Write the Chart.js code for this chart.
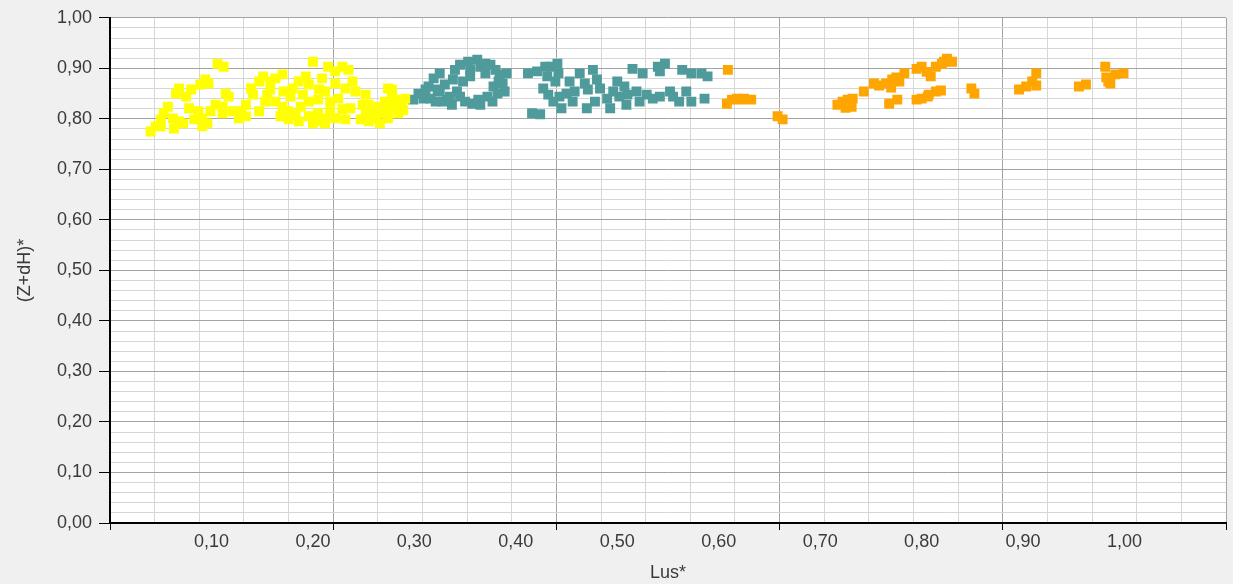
<!DOCTYPE html>
<html>
<head>
<meta charset="utf-8">
<script src="https://cdn.jsdelivr.net/npm/chart.js@4/dist/chart.umd.min.js"></script>
<style>
  html, body { margin: 0; padding: 0; background: #f0f0f0; }
  #wrap { width: 1233px; height: 584px; position: relative; }
</style>
</head>
<body>
<div id="wrap"><canvas id="lusChart"></canvas></div>
<script>
// Lus* (x) against (Z+dH)* (y), three groups
const yellowPoints = [
  [0.040, 0.775], [0.045, 0.785], [0.050, 0.799], [0.053, 0.811], [0.057, 0.824],
  [0.065, 0.850], [0.068, 0.860], [0.062, 0.801], [0.068, 0.795], [0.063, 0.781],
  [0.078, 0.821], [0.087, 0.815], [0.083, 0.799], [0.091, 0.801], [0.096, 0.791],
  [0.091, 0.785], [0.089, 0.868], [0.094, 0.878], [0.097, 0.870], [0.106, 0.909],
  [0.112, 0.903], [0.104, 0.828], [0.114, 0.850], [0.111, 0.824], [0.111, 0.811],
  [0.121, 0.815], [0.129, 0.815], [0.134, 0.828], [0.141, 0.848], [0.139, 0.860],
  [0.147, 0.874], [0.151, 0.884], [0.134, 0.805], [0.127, 0.801], [0.158, 0.874],
  [0.163, 0.880], [0.170, 0.888], [0.155, 0.848], [0.163, 0.834], [0.170, 0.824],
  [0.176, 0.815], [0.183, 0.809], [0.176, 0.799], [0.186, 0.795], [0.196, 0.805],
  [0.205, 0.811], [0.212, 0.801], [0.200, 0.791], [0.171, 0.854], [0.180, 0.860],
  [0.186, 0.874], [0.193, 0.884], [0.196, 0.868], [0.190, 0.848], [0.196, 0.834],
  [0.205, 0.838], [0.212, 0.854], [0.209, 0.880], [0.200, 0.913], [0.215, 0.903],
  [0.222, 0.894], [0.229, 0.903], [0.235, 0.897], [0.217, 0.834], [0.225, 0.840],
  [0.232, 0.860], [0.239, 0.874], [0.242, 0.854], [0.229, 0.819], [0.237, 0.821],
  [0.222, 0.801], [0.212, 0.791], [0.252, 0.809], [0.255, 0.795], [0.262, 0.801],
  [0.268, 0.811], [0.274, 0.819], [0.281, 0.828], [0.288, 0.834], [0.274, 0.801],
  [0.265, 0.824], [0.255, 0.828], [0.252, 0.848], [0.274, 0.860], [0.281, 0.838],
  [0.291, 0.840], [0.278, 0.858],
  [0.247, 0.799], [0.259, 0.815], [0.271, 0.834], [0.284, 0.811], [0.266, 0.791],
  [0.278, 0.844], [0.289, 0.817], [0.249, 0.828], [0.147, 0.815], [0.153, 0.834],
  [0.168, 0.805], [0.188, 0.824], [0.203, 0.795], [0.217, 0.815], [0.232, 0.799],
  [0.178, 0.844], [0.158, 0.858], [0.206, 0.858], [0.222, 0.870], [0.075, 0.844],
  [0.080, 0.858], [0.072, 0.791], [0.099, 0.815], [0.117, 0.844], [0.050, 0.785]
];

const tealPoints = [
  [0.299, 0.838], [0.309, 0.840], [0.314, 0.864], [0.319, 0.880], [0.325, 0.890],
  [0.323, 0.858], [0.330, 0.868], [0.332, 0.838], [0.337, 0.828], [0.342, 0.854],
  [0.345, 0.907], [0.353, 0.913], [0.362, 0.917], [0.365, 0.903], [0.370, 0.890],
  [0.375, 0.907], [0.380, 0.897], [0.384, 0.888], [0.387, 0.870], [0.389, 0.854],
  [0.382, 0.850], [0.372, 0.844], [0.363, 0.838], [0.357, 0.830], [0.350, 0.834],
  [0.345, 0.844], [0.348, 0.874], [0.355, 0.884], [0.338, 0.878], [0.328, 0.834],
  [0.321, 0.834], [0.365, 0.828], [0.378, 0.864], [0.391, 0.890],
  [0.304, 0.850], [0.311, 0.858], [0.335, 0.844], [0.355, 0.897], [0.370, 0.909],
  [0.383, 0.874], [0.340, 0.897], [0.325, 0.854], [0.377, 0.834], [0.316, 0.840],
  [0.412, 0.890], [0.421, 0.894], [0.416, 0.811], [0.424, 0.809], [0.431, 0.884],
  [0.434, 0.903], [0.441, 0.909], [0.442, 0.890], [0.427, 0.860], [0.432, 0.848],
  [0.437, 0.834], [0.445, 0.821], [0.450, 0.850], [0.453, 0.874], [0.456, 0.834],
  [0.463, 0.890], [0.468, 0.870], [0.471, 0.858], [0.470, 0.821], [0.476, 0.897],
  [0.480, 0.878], [0.483, 0.860], [0.490, 0.840], [0.493, 0.821], [0.496, 0.854],
  [0.500, 0.874], [0.507, 0.864], [0.510, 0.848], [0.509, 0.828], [0.515, 0.899],
  [0.519, 0.854], [0.525, 0.890], [0.529, 0.848], [0.535, 0.840], [0.540, 0.903],
  [0.547, 0.909], [0.542, 0.894], [0.552, 0.854], [0.555, 0.844], [0.564, 0.897],
  [0.568, 0.854], [0.573, 0.890], [0.573, 0.834], [0.583, 0.890], [0.586, 0.840],
  [0.589, 0.884],
  [0.443, 0.844], [0.458, 0.854], [0.478, 0.834], [0.502, 0.844], [0.522, 0.834],
  [0.542, 0.844], [0.561, 0.834], [0.429, 0.903], [0.439, 0.874]
];

const orangePoints = [
  [0.609, 0.897], [0.608, 0.830], [0.613, 0.838], [0.618, 0.840], [0.625, 0.840],
  [0.632, 0.838], [0.658, 0.805], [0.663, 0.799], [0.717, 0.828], [0.722, 0.834],
  [0.727, 0.838], [0.732, 0.840], [0.731, 0.824], [0.743, 0.854], [0.753, 0.870],
  [0.765, 0.870], [0.771, 0.878], [0.778, 0.874], [0.783, 0.890], [0.770, 0.862],
  [0.768, 0.830], [0.776, 0.838], [0.795, 0.899], [0.800, 0.903], [0.809, 0.884],
  [0.814, 0.903], [0.820, 0.909], [0.825, 0.919], [0.830, 0.913], [0.795, 0.838],
  [0.800, 0.840], [0.807, 0.848], [0.814, 0.854], [0.819, 0.856], [0.849, 0.860],
  [0.852, 0.850], [0.896, 0.858], [0.903, 0.864], [0.913, 0.890], [0.913, 0.866],
  [0.955, 0.864], [0.962, 0.868], [0.981, 0.903], [0.982, 0.882], [0.991, 0.888],
  [0.999, 0.890], [0.984, 0.874],
  [0.622, 0.838], [0.725, 0.822], [0.758, 0.866], [0.775, 0.882], [0.805, 0.893],
  [0.822, 0.913], [0.806, 0.844], [0.909, 0.874], [0.986, 0.870]
];

// axis settings
const xLabelTicks = [0.1, 0.2, 0.3, 0.4, 0.5, 0.6, 0.7, 0.8, 0.9, 1.0];
const X_MAX = 1.1;
const X_GRID_STEP = 0.044;   // 5 minor steps per major line (0.22)
const Y_MAX = 1.0;
const Y_GRID_STEP = 0.02;    // 5 minor steps per labelled line (0.1)

const fmt = v => v.toFixed(2).replace('.', ',');
const toXY = arr => arr.map(p => ({ x: p[0], y: p[1] }));

const MAJOR_GRID = '#a3a3a3';
const MINOR_GRID = '#d6d6d6';
const TEXT_COLOR = '#3a3a3a';
const FONT = { family: 'Liberation Sans', size: 18 };

const backgroundPlugin = {
  id: 'plotBackground',
  beforeDraw(chart) {
    const { ctx, chartArea } = chart;
    ctx.save();
    ctx.fillStyle = '#f0f0f0';
    ctx.fillRect(0, 0, chart.width, chart.height);
    ctx.fillStyle = '#ffffff';
    ctx.fillRect(chartArea.left, chartArea.top, chartArea.right - chartArea.left, chartArea.bottom - chartArea.top);
    ctx.restore();
  }
};

function pointSet(data, color) {
  return {
    data: toXY(data),
    backgroundColor: color,
    borderColor: color,
    borderWidth: 0,
    pointStyle: 'rect',
    pointRadius: 7,
    pointHoverRadius: 7
  };
}

const ctx = document.getElementById('lusChart').getContext('2d');
new Chart(ctx, {
  type: 'scatter',
  data: {
    datasets: [
      pointSet(yellowPoints, '#ffff00'),
      pointSet(tealPoints, '#4f9b9c'),
      pointSet(orangePoints, '#ffa500')
    ]
  },
  plugins: [backgroundPlugin],
  options: {
    responsive: true,
    maintainAspectRatio: false,
    animation: false,
    layout: { padding: { left: 0, top: 5, right: 6, bottom: 0 } },
    plugins: {
      legend: { display: false },
      tooltip: { enabled: false }
    },
    scales: {
      x: {
        type: 'linear',
        min: 0,
        max: X_MAX,
        afterBuildTicks: scale => {
          const ticks = [];
          const n = Math.round(X_MAX / X_GRID_STEP);
          for (let i = 0; i <= n; i++) {
            ticks.push({ value: +(i * X_GRID_STEP).toFixed(4), kind: i % 5 === 0 ? 'major' : 'minor' });
          }
          xLabelTicks.forEach(v => ticks.push({ value: v, kind: 'label' }));
          ticks.sort((a, b) => a.value - b.value);
          scale.ticks = ticks;
        },
        afterFit: scale => { scale.height = 61; },
        grid: {
          color: c => c.tick.kind === 'major' ? MAJOR_GRID : (c.tick.kind === 'minor' ? MINOR_GRID : 'rgba(0,0,0,0)'),
          tickColor: c => c.tick.kind === 'major' ? '#000' : 'rgba(0,0,0,0)',
          tickLength: 7,
          lineWidth: 1
        },
        border: { color: '#000', width: 2 },
        ticks: {
          autoSkip: false,
          maxRotation: 0,
          minRotation: 0,
          padding: 1,
          color: TEXT_COLOR,
          font: FONT,
          callback: (value, index, ticks) => ticks[index].kind === 'label' ? fmt(value) : ''
        },
        title: {
          display: true,
          text: 'Lus*',
          color: TEXT_COLOR,
          font: FONT,
          padding: { top: 0, bottom: 0 }
        }
      },
      y: {
        type: 'linear',
        min: 0,
        max: Y_MAX,
        afterBuildTicks: scale => {
          const ticks = [];
          const n = Math.round(Y_MAX / Y_GRID_STEP);
          for (let i = 0; i <= n; i++) {
            ticks.push({ value: +(i * Y_GRID_STEP).toFixed(4), kind: i % 5 === 0 ? 'major' : 'minor' });
          }
          scale.ticks = ticks;
        },
        afterFit: scale => { scale.width = 110; },
        grid: {
          color: c => c.tick.kind === 'major' ? MAJOR_GRID : MINOR_GRID,
          tickColor: c => c.tick.kind === 'major' ? '#000' : 'rgba(0,0,0,0)',
          tickLength: 11,
          lineWidth: 1
        },
        border: { color: '#000', width: 2 },
        ticks: {
          autoSkip: false,
          padding: 7,
          color: TEXT_COLOR,
          font: FONT,
          callback: (value, index, ticks) => ticks[index].kind === 'major' ? fmt(value) : ''
        },
        title: {
          display: true,
          text: '(Z+dH)*',
          color: TEXT_COLOR,
          font: FONT,
          padding: { top: 14, bottom: 0 }
        }
      }
    }
  }
});
</script>
</body>
</html>
